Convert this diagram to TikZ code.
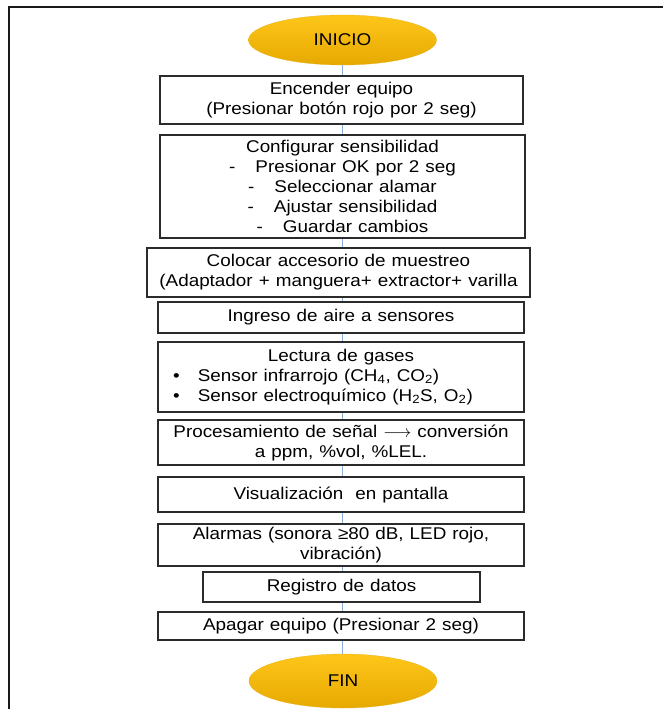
\documentclass[tikz,border=0pt]{standalone}
\usepackage{fontspec}
\setmainfont{Liberation Sans}[FakeStretch=1.11, WordSpace=1.15]
\usetikzlibrary{shapes.geometric}
\definecolor{linkblue}{HTML}{8AAEDC}
\definecolor{goldtop}{HTML}{FFC61A}
\definecolor{goldbot}{HTML}{E6A900}
\definecolor{boxline}{HTML}{2B2B2B}
\tikzset{
  proc/.style={draw=boxline, line width=1.6pt, fill=white, inner sep=0pt,
    align=center, font=\fontsize{17}{20}\selectfont},
  terminal/.style={ellipse, inner sep=0pt, top color=goldtop, bottom color=goldbot,
    draw=goldtop!90!black, line width=0.3pt, font=\fontsize{17}{20}\selectfont},
  link/.style={draw=linkblue, line width=1pt},
  frame/.style={draw=black!90, line width=1.8pt}
}
\begin{document}
\begin{tikzpicture}[x=1pt, y=-1pt]
\useasboundingbox (0,0) rectangle (663,709);
% page frame (top and left edges)
\coordinate (fr) at (663,7);
\coordinate (fc) at (9,7);
\coordinate (fb) at (9,709);
\draw[frame] (fr) -- (fc) -- (fb);

% common vertical axis of the connectors
\coordinate (spine) at (342,0);

\node[terminal, minimum width=188, minimum height=50] (start) at (342.5,40) {INICIO};

\node[proc, minimum width=363, minimum height=48] (b1) at (341.5,100)
  {Encender equipo\\(Presionar botón rojo por 2 seg)};

\node[proc, minimum width=365, minimum height=103] (b2) at (342.5,186.5)
  {Configurar sensibilidad\\
   -\hspace{20pt}Presionar OK por 2 seg\\
   -\hspace{20pt}Seleccionar alamar\\
   -\hspace{20pt}Ajustar sensibilidad\\
   -\hspace{20pt}Guardar cambios};

\node[proc, minimum width=383, minimum height=49] (b3) at (338.5,272.5)
  {Colocar accesorio de muestreo\\(Adaptador + manguera+ extractor+ varilla};

\node[proc, minimum width=366, minimum height=31] (b4) at (341,317.5)
  {Ingreso de aire a sensores};

\node[proc, minimum width=366, minimum height=70] (b5) at (341,377)
  {\begin{tabular}{@{}l@{}}
     \multicolumn{1}{c}{Lectura de gases}\\
     \textbullet\hspace{18pt}Sensor infrarrojo (CH\textsubscript{4}, CO\textsubscript{2})\\
     \textbullet\hspace{18pt}Sensor electroquímico (H\textsubscript{2}S, O\textsubscript{2})\hspace{36pt}
   \end{tabular}};

\node[proc, minimum width=366, minimum height=45] (b6) at (341,442.5)
  {Procesamiento de señal $\longrightarrow$ conversión\\a ppm, \%vol, \%LEL.};

\node[proc, minimum width=366, minimum height=35] (b7) at (341,494.5)
  {Visualización \ en pantalla};

\node[proc, minimum width=366, minimum height=42] (b8) at (341,545)
  {Alarmas (sonora ≥80 dB, LED rojo,\\vibración)};

\node[proc, minimum width=277, minimum height=30] (b9) at (341.5,587)
  {Registro de datos};

\node[proc, minimum width=366, minimum height=28] (b10) at (341,626)
  {Apagar equipo (Presionar 2 seg)};

\node[terminal, minimum width=188, minimum height=54] (stop) at (343,681) {FIN};

% vertical connectors
\foreach \a/\b in {start/b1, b1/b2, b2/b3, b3/b4, b4/b5, b5/b6, b6/b7, b7/b8, b8/b9, b9/b10, b10/stop}
  \draw[link] (\a.south -| spine) -- (\b.north -| spine);
\end{tikzpicture}
\end{document}
